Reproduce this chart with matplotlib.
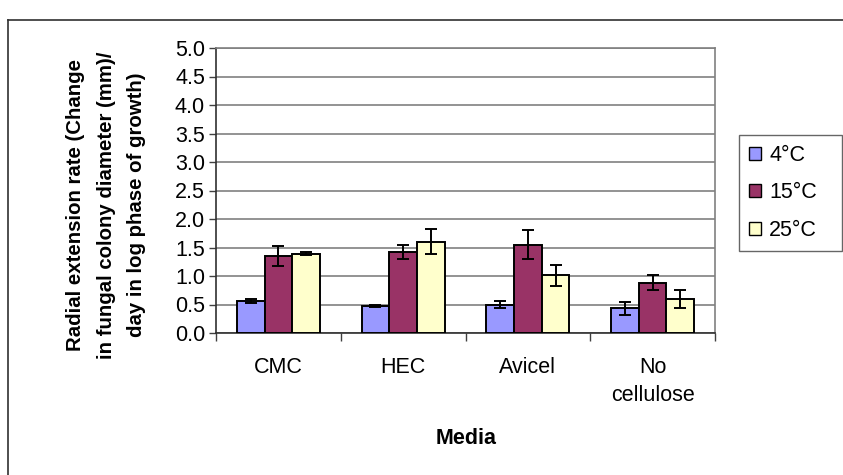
import matplotlib
matplotlib.use("Agg")
import matplotlib.pyplot as plt
from matplotlib.lines import Line2D
from matplotlib.patches import Patch
import numpy as np

plt.rcParams['font.family'] = ['Liberation Sans', 'DejaVu Sans']

media = ["CMC", "HEC", "Avicel", "No\ncellulose"]
temps = ["4°C", "15°C", "25°C"]
rate_4 = [0.56, 0.47, 0.50, 0.43]
rate_15 = [1.35, 1.42, 1.55, 0.88]
rate_25 = [1.39, 1.60, 1.01, 0.59]
err_4 = [0.03, 0.02, 0.07, 0.11]
err_15 = [0.17, 0.13, 0.25, 0.13]
err_25 = [0.03, 0.22, 0.18, 0.16]
yticks = [0.0, 0.5, 1.0, 1.5, 2.0, 2.5, 3.0, 3.5, 4.0, 4.5, 5.0]

colors = ["#9999FF", "#993366", "#FFFFCC"]
W, H = 843, 475
fig = plt.figure(figsize=(W / 100, H / 100), dpi=100)
ax = fig.add_axes([216 / W, 1 - 333 / H, (715 - 216) / W, (333 - 48) / H])

x = np.arange(len(media))
bw = 1 / 4.5
series = [rate_4, rate_15, rate_25]
errs = [err_4, err_15, err_25]
for i, (vals, e) in enumerate(zip(series, errs)):
    pos = x + (i - 1) * bw
    ax.bar(pos, vals, width=bw, color=colors[i], edgecolor="black",
           linewidth=1.4, zorder=3)
    ax.errorbar(pos, vals, yerr=e, fmt="none", ecolor="black",
                elinewidth=1.4, capsize=4.5, capthick=1.4, zorder=4)

ax.set_xlim(-0.5, len(media) - 0.5)
ax.set_ylim(0, 5.0)
ax.set_yticks(yticks)
ax.set_yticklabels([f"{v:.1f}" for v in yticks], fontsize=15.5)
ax.yaxis.grid(True, color="#808080", linewidth=1.2, zorder=0)
ax.tick_params(axis="y", direction="out", length=5, width=1, color="#404040", pad=3)

ax.set_xticks(np.arange(-0.5, len(media)), minor=False)
ax.set_xticklabels([])
ax.tick_params(axis="x", which="major", direction="out", length=6, width=1, color="#404040")
ax.set_xticks(x, minor=True)
ax.set_xticklabels(media, minor=True, fontsize=15.5, linespacing=1.45)
ax.tick_params(axis="x", which="minor", length=0, pad=17)

for s in ["top", "right"]:
    ax.spines[s].set_color("#808080")
    ax.spines[s].set_linewidth(1.2)
for s in ["left", "bottom"]:
    ax.spines[s].set_color("#303030")
    ax.spines[s].set_linewidth(1.2)

fig.text(466 / W, 1 - 438 / H, "Media", ha="center", va="center",
         fontsize=15.5, fontweight="bold")
fig.text(106 / W, 1 - 205 / H,
         "Radial extension rate (Change\nin fungal colony diameter (mm)/\nday in log phase of growth)",
         rotation=90, ha="center", va="center", multialignment="center",
         fontsize=14.7, fontweight="bold", linespacing=1.75)

handles = [Patch(facecolor=c, edgecolor="black", linewidth=1.0) for c in colors]
leg = fig.legend(handles, temps, loc="upper left", mode="expand",
                 bbox_to_anchor=(739 / W, 1 - 248 / H, 103 / W, 113 / H),
                 fontsize=15.5, frameon=True, fancybox=False, edgecolor="#404040",
                 handlelength=0.55, handleheight=0.55, handletextpad=0.4,
                 labelspacing=0.78, borderpad=0.45, borderaxespad=0)
leg.get_frame().set_linewidth(1.0)

fig.add_artist(Line2D([8 / W, 1.0], [1 - 20 / H, 1 - 20 / H], color="#303030", linewidth=1.2))
fig.add_artist(Line2D([8 / W, 8 / W], [0, 1 - 20 / H], color="#303030", linewidth=1.2))

fig.savefig("out.png", dpi=100)
